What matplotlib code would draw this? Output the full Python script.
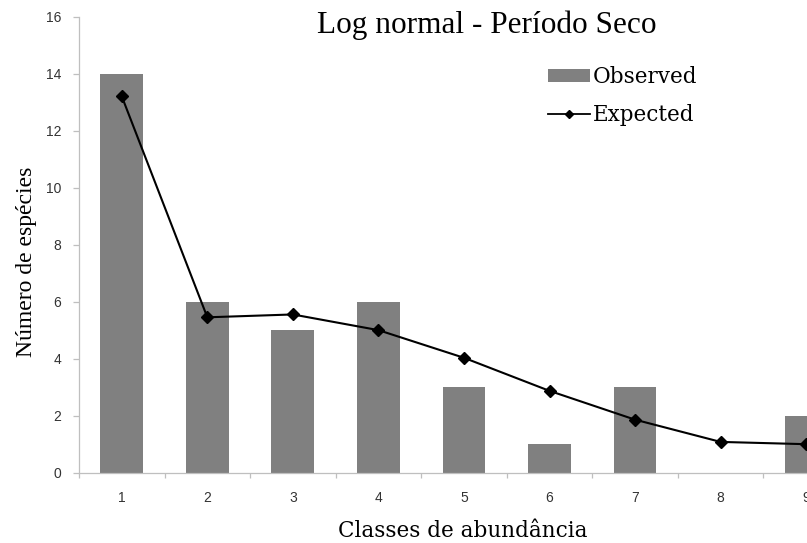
import matplotlib
matplotlib.use("Agg")
import matplotlib.pyplot as plt
from matplotlib.patches import Patch
from matplotlib.lines import Line2D

classes = [1, 2, 3, 4, 5, 6, 7, 8, 9]
observed = [14, 6, 5, 6, 3, 1, 3, 0, 2]
expected = [13.2, 5.45, 5.55, 5.0, 4.03, 2.87, 1.86, 1.08, 1.0]
yticks = [0, 2, 4, 6, 8, 10, 12, 14, 16]

title = "Log normal - Período Seco"
xlabel = "Classes de abundância"
ylabel = "Número de espécies"

W, H = 807, 543
fig = plt.figure(figsize=(W / 100, H / 100), dpi=100)
left_px, right_px, bottom_px, top_px = 79, 807, 472.7, 16.5
ax = fig.add_axes([left_px / W, 1 - bottom_px / H,
                   (right_px - left_px) / W, (bottom_px - top_px) / H])

grey_axis = "#BFBFBF"
ax.bar(classes, observed, width=0.5, color="#808080", zorder=2)
ax.plot(classes, expected, color="black", lw=1.5, marker="D", markersize=6,
        markerfacecolor="black", markeredgecolor="black", zorder=3,
        clip_on=False)

ax.set_xlim(0.5, 9.01)
ax.set_ylim(0, 16)
ax.set_yticks(yticks)
ax.set_xticks(classes)
ax.set_xticks([c - 0.5 for c in classes], minor=True)

for s in ["top", "right"]:
    ax.spines[s].set_visible(False)
for s in ["left", "bottom"]:
    ax.spines[s].set_color(grey_axis)
    ax.spines[s].set_linewidth(0.9)

ax.tick_params(axis="y", which="major", direction="out", length=4.3,
               width=0.9, color=grey_axis, pad=8.6, labelcolor="#333333",
               labelsize=10)
ax.tick_params(axis="x", which="major", length=0, pad=13.5,
               labelcolor="#333333", labelsize=10)
ax.tick_params(axis="x", which="minor", direction="out", length=3.6,
               width=0.9, color=grey_axis)
for lab in ax.get_xticklabels() + ax.get_yticklabels():
    lab.set_fontfamily("Liberation Sans")

fig.text(487 / W, 1 - 33 / H, title, family="Liberation Serif", size=22.5,
         ha="center", va="baseline")
fig.text(463 / W, 1 - 537 / H, xlabel, family="DejaVu Serif", size=15.5,
         ha="center", va="baseline")
fig.text(27 / W, 1 - 262 / H, ylabel, family="Liberation Serif", size=17,
         ha="center", va="center", rotation=90)

handles = [Patch(facecolor="#808080", edgecolor="none"),
           Line2D([0], [0], color="black", lw=1.3, marker="D", markersize=4)]
leg = fig.legend(handles, ["Observed", "Expected"], loc="upper left",
                 bbox_to_anchor=(548 / W, 1 - 66 / H), frameon=False,
                 prop=dict(family="DejaVu Serif", size=15.5),
                 handlelength=1.95, handleheight=0.6, handletextpad=0.15,
                 labelspacing=0.74, borderpad=0, borderaxespad=0)

fig.savefig("out.png", dpi=100)
